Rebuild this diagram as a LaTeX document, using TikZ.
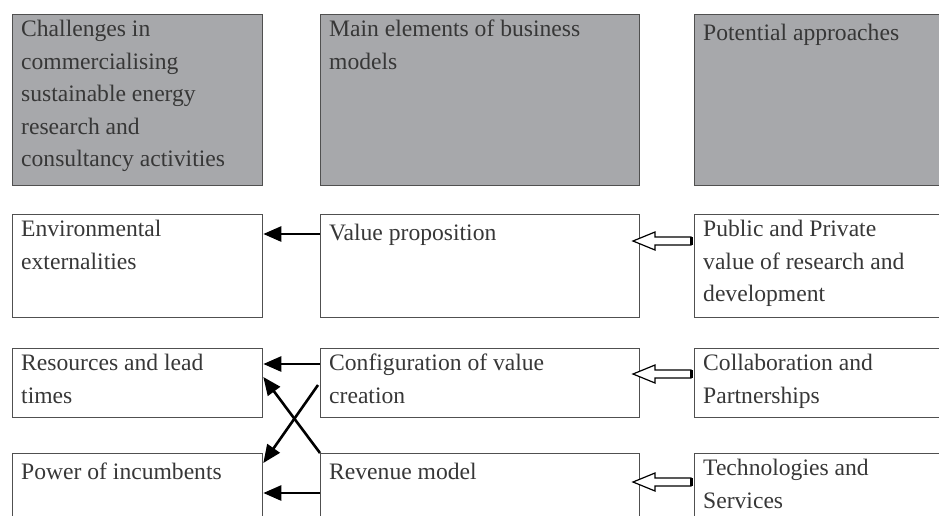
\documentclass[tikz,border=0pt]{standalone}
\usepackage{fontspec}
\setmainfont{Liberation Serif}
\usetikzlibrary{arrows.meta}

\definecolor{headgray}{RGB}{167,168,171}
\definecolor{linegray}{RGB}{80,80,80}
\definecolor{textgray}{RGB}{55,55,55}

\tikzset{
	box/.style={draw=linegray, line width=1.3pt, anchor=north west, inner sep=0pt},
	headbox/.style={box, fill=headgray, minimum height=171pt},
	boxtext/.style={anchor=north west, align=left, inner xsep=9pt, inner ysep=6pt,
		text=textgray, font=\fontsize{23.6}{32.5}\selectfont,
		execute at begin node={\rule{0pt}{20pt}}},
	solid arrow/.style={line width=2.6pt, -{Triangle[length=18pt,width=15pt]}},
	hollow/.style={line width=1.2pt, fill=white}
}

\begin{document}
\begin{tikzpicture}[x=1pt, y=1pt]
	\useasboundingbox (0,0) rectangle (939,-515);
	\clip (0,0) rectangle (939,-515);
	
	% header row
	\node[headbox, minimum width=250pt] (hdChal) at (12,-14) {};
	\node[headbox, minimum width=319pt] (hdElem) at (320,-14) {};
	\node[headbox, minimum width=300pt] (hdAppr) at (694,-14) {};
	\node[boxtext] (hdChalT) at (hdChal.north west) {Challenges in\\commercialising\\sustainable energy\\research and\\consultancy activities};
	\node[boxtext] (hdElemT) at (hdElem.north west) {Main elements of business\\models};
	\node[boxtext] (hdApprT) at (hdAppr.north west) {Potential approaches};
	
	% first row
	\node[box, minimum width=250pt, minimum height=103pt] (env) at (12,-214) {};
	\node[box, minimum width=319pt, minimum height=103pt] (valprop) at (320,-214) {};
	\node[box, minimum width=300pt, minimum height=103pt] (pubpriv) at (694,-214) {};
	\node[boxtext] (envT) at (env.north west) {Environmental\\externalities};
	\node[boxtext] (valpropT) at (valprop.north west) {Value proposition};
	\node[boxtext] (pubprivT) at (pubpriv.north west) {Public and Private\\value of research and\\development};
	
	% second row
	\node[box, minimum width=250pt, minimum height=69pt] (res) at (12,-348) {};
	\node[box, minimum width=319pt, minimum height=69pt] (config) at (320,-348) {};
	\node[box, minimum width=300pt, minimum height=69pt] (collab) at (694,-348) {};
	\node[boxtext] (resT) at (res.north west) {Resources and lead\\times};
	\node[boxtext] (configT) at (config.north west) {Configuration of value\\creation};
	\node[boxtext] (collabT) at (collab.north west) {Collaboration and\\Partnerships};
	
	% third row
	\node[box, minimum width=250pt, minimum height=100pt] (power) at (12,-453) {};
	\node[box, minimum width=319pt, minimum height=100pt] (revenue) at (320,-453) {};
	\node[box, minimum width=300pt, minimum height=100pt] (techserv) at (694,-453) {};
	\node[boxtext] (powerT) at (power.north west) {Power of incumbents};
	\node[boxtext] (revenueT) at (revenue.north west) {Revenue model};
	\node[boxtext] (techservT) at (techserv.north west) {Technologies and\\Services};
	
	% black arrows
	\draw[solid arrow] ([yshift=-20pt]valprop.north west) -- ([yshift=-20pt]env.north east);
	\draw[solid arrow] ([yshift=-16pt]config.north west) -- ([yshift=-16pt]res.north east);
	\draw[solid arrow] ([xshift=-2pt,yshift=-37pt]config.north west) -- ([yshift=-10pt]power.north east);
	\draw[solid arrow] (revenue.north west) -- ([yshift=-29pt]res.north east);
	\draw[solid arrow] ([yshift=-40pt]revenue.north west) -- ([yshift=-40pt]power.north east);
	
	% open arrows
	\draw[hollow] ([xshift=-3pt,yshift=-23pt]pubpriv.north west) -- ++(-36,0) -- ++(0,5) -- ++(-22,-9) -- ++(22,-9) -- ++(0,5) -- ++(36,0) -- cycle;
	\draw[line width=3pt] ([xshift=-3pt,yshift=-23pt]pubpriv.north west) -- ++(0,-8);
	\draw[hollow] ([xshift=-3pt,yshift=-22pt]collab.north west) -- ++(-36,0) -- ++(0,5) -- ++(-22,-9) -- ++(22,-9) -- ++(0,5) -- ++(36,0) -- cycle;
	\draw[line width=3pt] ([xshift=-3pt,yshift=-22pt]collab.north west) -- ++(0,-8);
	\draw[hollow] ([xshift=-3pt,yshift=-25pt]techserv.north west) -- ++(-36,0) -- ++(0,5) -- ++(-22,-9) -- ++(22,-9) -- ++(0,5) -- ++(36,0) -- cycle;
	\draw[line width=3pt] ([xshift=-3pt,yshift=-25pt]techserv.north west) -- ++(0,-8);
\end{tikzpicture}
\end{document}
